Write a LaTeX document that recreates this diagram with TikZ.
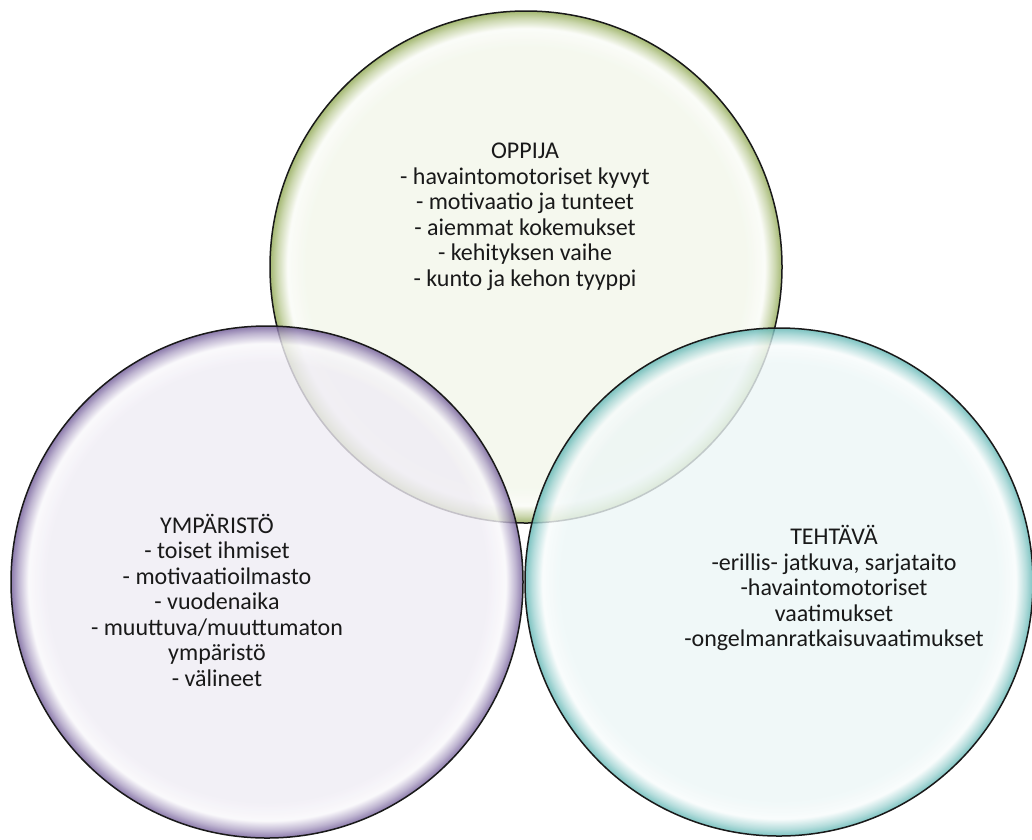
\documentclass[tikz,border=0pt]{standalone}
\usepackage{fontspec}
\setmainfont{Carlito}
\usetikzlibrary{positioning}

\definecolor{greenin}{HTML}{F2F6EA}
\definecolor{greenrim}{HTML}{8DA64E}
\definecolor{purplein}{HTML}{EFECF4}
\definecolor{purplerim}{HTML}{6E5896}
\definecolor{tealin}{HTML}{ECF6F6}
\definecolor{tealrim}{HTML}{5CB4B2}

\pgfdeclareradialshading{rimgreen}{\pgfpoint{0bp}{0bp}}{color(0bp)=(greenin); color(21.5bp)=(greenin); color(23.3bp)=(greenin!40!white); color(24.3bp)=(greenrim!50!greenin); color(25bp)=(greenrim); color(50bp)=(greenrim)}
\pgfdeclareradialshading{rimpurple}{\pgfpoint{0bp}{0bp}}{color(0bp)=(purplein); color(21.5bp)=(purplein); color(23.3bp)=(purplein!40!white); color(24.3bp)=(purplerim!50!purplein); color(25bp)=(purplerim); color(50bp)=(purplerim)}
\pgfdeclareradialshading{rimteal}{\pgfpoint{0bp}{0bp}}{color(0bp)=(tealin); color(21.5bp)=(tealin); color(23.3bp)=(tealin!40!white); color(24.3bp)=(tealrim!50!tealin); color(25bp)=(tealrim); color(50bp)=(tealrim)}

\begin{document}
\begin{tikzpicture}[x=1pt, y=-1pt,
  ring/.style={circle, draw=black!90, line width=1.5pt, minimum size=#1, inner sep=0pt, fill opacity=0.8},
  txt/.style={align=center, inner sep=0pt, font=\fontsize{24}{25.5}\selectfont, text=black!90}]

\useasboundingbox (0,0) rectangle (1032,839);

% circles
\node[ring=512pt, shading=rimgreen] (O) at (526,267) {};
\node[ring=512pt, shading=rimpurple] (Y) at (267,582) {};
\node[ring=508pt, shading=rimteal] (T) at (779,582) {};

% oppija
\node[txt] (Otext) at (525,217) {OPPIJA\\- havaintomotoriset kyvyt\\- motivaatio ja tunteet\\- aiemmat kokemukset\\- kehityksen vaihe\\- kunto ja kehon tyyppi};

% ymparisto
\node[txt] (Ytext) at (217,600) {YMPÄRISTÖ\\- toiset ihmiset\\- motivaatioilmasto\\- vuodenaika\\- muuttuva/muuttumaton\\ympäristö\\- välineet};

% tehtava
\node[txt] (Ttext) at (834,588) {TEHTÄVÄ\\-erillis- jatkuva, sarjataito\\-havaintomotoriset\\vaatimukset\\-ongelmanratkaisuvaatimukset};

\end{tikzpicture}
\end{document}
